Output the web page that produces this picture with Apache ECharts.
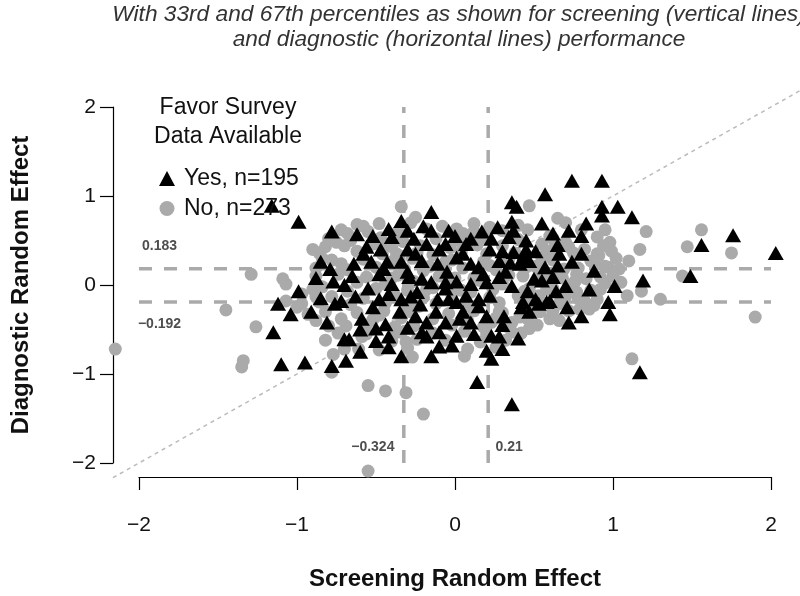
<!DOCTYPE html>
<html><head><meta charset="utf-8">
<script src="https://cdn.jsdelivr.net/npm/echarts@6/dist/echarts.min.js"></script>
<style>html,body{margin:0;padding:0;background:#fff}#c{width:800px;height:596px}</style>
</head><body><div id="c"></div>
<script>
const titleLines = ['With 33rd and 67th percentiles as shown for screening (vertical lines)', 'and diagnostic (horizontal lines) performance'];
const xAxisName = 'Screening Random Effect';
const yAxisName = 'Diagnostic Random Effect';
const axisTicks = [-2, -1, 0, 1, 2];
const screeningCuts = [-0.324, 0.21];
const diagnosticCuts = [0.183, -0.192];
const cutSpan = [-2, 2];
const diagonalSpan = [-2.165, 2.3];
const legendTitle = ['Favor Survey', 'Data Available'];
const seriesNames = ['Yes, n=195', 'No, n=273'];

const yesPoints = [
[-1.16,0.89],[-0.99,0.71],[-0.78,0.60],[-0.85,0.26],[-0.79,0.18],[-0.77,0.04],[-0.99,-0.07],[-1.12,-0.21],[-1.04,-0.33],[-1.15,-0.53],[-1.10,-0.89],[-0.95,-0.87],[-0.78,-0.91],[-0.81,-0.42],[-0.70,-0.61],[-0.91,-0.30],[-0.76,-0.21],[-0.69,-0.85],
[-0.62,0.57],[-0.56,0.43],[-0.42,0.63],[-0.34,0.72],[-0.30,0.61],[-0.20,0.66],[-0.15,0.82],[-0.15,0.61],[-0.40,0.54],[-0.26,0.52],[-0.18,0.46],[-0.10,0.40],[-0.64,0.24],[-0.53,0.26],[-0.43,0.26],[-0.34,0.26],[-0.21,0.27],[-0.11,0.24],[-0.65,0.10],[-0.48,0.12],[-0.40,0.01],[-0.29,0.09],[-0.21,0.07],[-0.15,0.03],[-0.72,-0.18],[-0.63,-0.13],[-0.55,-0.04],[-0.42,-0.10],[-0.34,-0.16],[-0.24,-0.08],[-0.11,-0.16],[-0.06,-0.04],
[-0.04,0.61],[0.10,0.52],[0.17,0.60],[0.23,0.52],[-0.06,0.46],[0.07,0.46],[0.34,0.54],[0.36,0.93],[0.39,0.88],[0.55,0.69],[0.36,0.71],[0.37,0.61],[0.30,0.38],[0.37,0.37],[0.45,0.40],[0.51,0.38],[0.01,0.31],[0.10,0.24],[0.15,0.20],[0.28,0.27],[0.43,0.31],[0.47,0.27],[-0.06,0.03],[0.01,0.04],[0.10,0.01],[0.20,0.03],[0.28,0.09],[0.36,-0.01],[-0.04,-0.16],[0.07,-0.12],[0.15,-0.16],[0.43,-0.19],[0.51,-0.16],
[-0.48,-0.16],[-0.28,-0.13],[-0.59,-0.38],[-0.50,-0.49],[-0.44,-0.44],[-0.67,-0.61],[-0.50,-0.63],[-0.42,-0.58],[-0.42,-0.70],[-0.25,-0.35],[-0.18,-0.42],[-0.21,-0.53],[-0.06,-0.42],[0.03,-0.38],[-0.18,-0.58],[-0.10,-0.53],[0.01,-0.57],[0.12,-0.55],[-0.10,-0.69],[-0.34,-0.80],[-0.15,-0.80],[0.01,-0.19],[0.15,-0.24],[0.23,-0.57],[0.28,-0.58],[0.20,-0.74],[0.30,-0.72],[0.23,-0.83],[0.31,-0.35],[0.42,-0.25],[0.47,-0.30],[0.53,-0.21],[0.60,-0.18],[0.14,-1.09],[0.36,-1.34],
[0.74,1.17],[0.93,1.17],[0.57,1.02],[0.93,0.88],[0.93,0.78],[1.03,0.88],[1.12,0.76],[0.83,0.69],[0.62,0.58],[0.72,0.61],[0.80,0.55],[1.76,0.56],[1.56,0.45],[2.03,0.36],[0.65,0.45],[0.66,0.35],[0.74,0.26],[0.88,0.16],[1.19,0.05],[1.01,-0.01],[0.62,0.09],[0.70,-0.01],[0.64,-0.07],[1.49,0.10],[0.97,-0.19],[0.98,-0.33],[0.71,-0.25],[0.72,-0.42],[0.58,-0.19],[1.17,-0.98],
[0.44,0.35],[0.41,0.24],[0.57,0.20],[0.50,0.07],[0.46,-0.07],
[-0.58,0.35],[-0.47,0.40],[-0.30,0.40],[-0.05,0.15],[0.05,0.35],[0.22,0.40],[-0.70,0.00],[-0.52,-0.25],[-0.35,-0.30],[-0.22,-0.22],[0.05,-0.30],[0.22,-0.12],[0.30,-0.45],[0.10,-0.42],[-0.30,-0.48],[-0.60,-0.50],[-0.85,-0.15],[-0.30,0.15],[0.18,0.12],[0.32,0.15],[-0.12,-0.30],[0.20,-0.35],[-0.25,0.35],[0.00,0.55],[0.27,0.65],[-0.52,0.55],[0.65,0.22],[0.80,0.35],[0.85,-0.05],[0.80,-0.35],[0.45,0.50],[-0.02,-0.68],[-0.45,0.18],[0.35,0.25],[-0.60,-0.75],[0.40,-0.60],[0.55,0.05],[-0.88,0.08]
];

const noPoints = [
[-2.15,-0.72],[-1.45,-0.28],[-1.26,-0.47],[-1.34,-0.85],[-1.35,-0.92],[-1.29,0.12],[-1.09,0.07],[-1.07,0.01],[-0.90,0.40],[-0.82,0.43],[-0.72,0.24],[-0.77,-0.78],[-0.78,-0.98],[-0.55,-1.13],[-0.44,-1.19],[-0.31,-1.21],[-0.20,-1.45],[0.06,-0.80],[-0.55,-2.09],[-0.48,0.69],[-0.34,0.88],[-0.25,0.76],[0.01,0.63],[0.22,0.65],[0.47,0.89],[0.30,0.61],[-0.45,0.44],[-0.37,0.35],[-0.06,0.26],[0.55,0.46],[0.45,0.20],[0.53,0.07],[0.43,0.10],[0.65,0.75],[0.95,0.62],[1.21,0.60],[1.56,0.62],[1.47,0.43],[1.75,0.36],[0.98,0.48],[0.99,0.38],[0.90,0.35],[1.10,0.27],[1.44,0.10],[1.05,0.03],[1.18,-0.07],[1.09,-0.12],[0.90,-0.16],[0.85,-0.27],[0.62,-0.29],[1.90,-0.36],[1.12,-0.83],[0.36,-0.53],[0.36,-0.42],[-0.61,-0.72],[-0.27,-0.81],[-0.37,-0.53],[-0.23,-0.24],[0.53,-0.12],[0.23,-0.42],[-0.59,-0.58],[-0.31,-0.64],
[-0.97,-0.21],[-0.88,-0.13],[-1.07,-0.18],[-0.93,-0.33],[-0.69,-0.46],[-0.97,-0.10],[-0.84,-0.02],[-0.86,-0.19],
[0.51,0.21],[0.58,0.12],[0.47,-0.04],[0.77,0.12],[0.83,0.07],[0.77,-0.08],[0.91,0.33],[0.97,0.20],[0.79,-0.27],[0.67,-0.16],[0.82,0.40],[0.90,0.54],[0.69,0.18],[0.60,-0.38],[0.47,-0.49],[0.41,-0.36],[1.04,0.18],[1.17,0.40],[1.30,-0.16],
[-0.62,0.68],[-0.28,0.70],[-0.08,0.66],[0.12,0.69],[0.40,0.67],[0.70,0.70],
[-0.72,0.62],[-0.55,0.60],[-0.18,0.63],[0.05,0.58],[0.46,0.62],[0.80,0.62],
[-0.80,0.52],[-0.66,0.50],[-0.47,0.53],[-0.33,0.49],[-0.12,0.52],[0.02,0.50],[0.18,0.53],[0.40,0.51],[0.62,0.52],
[-0.70,0.44],[-0.52,0.46],[-0.40,0.43],[-0.22,0.44],[-0.03,0.42],[0.14,0.45],[0.30,0.44],[0.72,0.43],
[-0.86,0.36],[-0.62,0.38],[-0.46,0.35],[-0.24,0.36],[-0.14,0.34],[0.04,0.37],[0.20,0.35],[0.38,0.36],[0.58,0.38],[0.75,0.36],
[-0.78,0.28],[-0.58,0.29],[-0.39,0.27],[-0.27,0.30],[-0.02,0.28],[0.18,0.26],[0.34,0.29],[0.62,0.28],[0.86,0.27],
[-0.88,0.19],[-0.68,0.17],[-0.50,0.20],[-0.32,0.18],[-0.16,0.21],[0.05,0.19],[0.26,0.17],[0.52,0.20],[0.78,0.19],[0.95,0.21],
[-0.88,0.10],[-0.74,0.12],[-0.56,0.09],[-0.36,0.11],[-0.10,0.10],[0.12,0.08],[0.34,0.11],[0.66,0.10],[0.92,0.09],
[-0.62,0.03],[-0.44,0.01],[-0.26,0.04],[-0.02,0.02],[0.16,0.05],[0.30,0.01],[0.58,0.03],[0.76,0.04],[0.95,0.02],
[-0.90,-0.05],[-0.68,-0.07],[-0.50,-0.04],[-0.30,-0.06],[-0.14,-0.03],[0.04,-0.06],[0.24,-0.05],[0.44,-0.07],[0.62,-0.04],[0.86,-0.06],
[-0.78,-0.13],[-0.58,-0.15],[-0.38,-0.12],[-0.20,-0.14],[-0.02,-0.11],[0.22,-0.14],[0.40,-0.12],[0.70,-0.13],[0.78,-0.15],
[-0.66,-0.22],[-0.44,-0.20],[-0.30,-0.23],[-0.12,-0.21],[0.08,-0.23],[0.28,-0.20],[0.48,-0.22],[0.66,-0.21],[0.88,-0.23],
[-0.82,-0.30],[-0.62,-0.31],[-0.45,-0.29],[-0.28,-0.30],[-0.04,-0.32],[0.12,-0.29],[0.30,-0.31],[0.54,-0.30],[0.72,-0.29],
[-0.72,-0.38],[-0.52,-0.39],[-0.34,-0.37],[-0.14,-0.38],[0.08,-0.40],[0.26,-0.37],[0.46,-0.38],
[-0.80,-0.46],[-0.56,-0.45],[-0.38,-0.47],[-0.26,-0.46],[-0.02,-0.45],[0.18,-0.47],[0.32,-0.46],[0.52,-0.45],
[-0.74,-0.54],[-0.56,-0.55],[-0.34,-0.53],[-0.14,-0.54],[0.06,-0.52],[0.20,-0.55],[0.42,-0.54],
[-0.82,-0.62],[-0.40,-0.63],[-0.24,-0.61],[-0.06,-0.62],[0.16,-0.64],[0.32,-0.62],
[-0.70,-0.72],[-0.48,-0.73],[-0.30,-0.71],[0.08,-0.72],[0.26,-0.70],
[0.55,0.30],[0.62,0.40],[0.70,0.48],[0.75,0.02],[0.82,-0.18],[0.92,-0.05],[1.00,0.10],[0.58,-0.05],[0.68,0.08],[0.88,0.26],[0.52,-0.30],[0.66,-0.40],[0.44,-0.20],[0.60,0.55],[1.02,0.30],[0.94,0.44],
[-1.00,-0.25],[-0.88,-0.40],[-0.84,0.30],[-0.75,0.48],[-0.68,0.58],[-0.58,0.66],
[-0.40,0.08],[-0.20,0.16],[0.00,0.08],[0.22,0.22],[-0.48,-0.34],[-0.18,-0.05],[0.10,-0.08],[0.28,-0.30],[-0.36,0.60],[0.12,0.60]
];

const FONT = 'Liberation Sans, Arial, sans-serif';
const fmt = v => (v < 0 ? '\u2212' + Math.abs(v) : String(v));
const dashGray = '#aaaaaa';

const cutLineSeries = [];
diagnosticCuts.forEach(v => cutLineSeries.push({
  type: 'line', data: [[cutSpan[0], v], [cutSpan[1], v]], symbol: 'none', silent: true, clip: false, z: 1,
  lineStyle: { color: dashGray, width: 3.5, type: [13, 12] }
}));
screeningCuts.forEach(v => cutLineSeries.push({
  type: 'line', data: [[v, cutSpan[0]], [v, cutSpan[1]]], symbol: 'none', silent: true, clip: false, z: 1,
  lineStyle: { color: dashGray, width: 3.5, type: [13, 12] }
}));

const cutLabelData = [
  { value: [-1.87, diagnosticCuts[0]], name: fmt(diagnosticCuts[0]), label: { offset: [0, -23] } },
  { value: [-1.87, diagnosticCuts[1]], name: fmt(diagnosticCuts[1]), label: { offset: [0, 22] } },
  { value: [screeningCuts[0], -1.82], name: fmt(screeningCuts[0]), label: { offset: [-31, 0] } },
  { value: [screeningCuts[1], -1.82], name: fmt(screeningCuts[1]), label: { offset: [21, 0] } }
];

const chart = echarts.init(document.getElementById('c'), null, { renderer: 'canvas' });
chart.setOption({
  backgroundColor: '#ffffff',
  animation: false,
  title: {
    text: titleLines.join('\n'), left: 454, top: -3, textAlign: 'center',
    textStyle: { fontFamily: FONT, fontStyle: 'italic', fontWeight: 'normal', fontSize: 22.7, lineHeight: 25, color: '#333333' }
  },
  graphic: legendTitle.map((t, i) => ({
    type: 'text', x: 228, y: 108 + i * 29,
    style: { text: t, fill: '#111111', font: '23px ' + FONT, textAlign: 'center', textVerticalAlign: 'middle' }
  })),
  legend: {
    orient: 'vertical', left: 154, top: 162, itemWidth: 16, itemHeight: 15, itemGap: 7,
    textStyle: { fontFamily: FONT, fontSize: 23, color: '#111111', padding: [0, 0, 0, 4] },
    data: [{ name: seriesNames[0], icon: 'triangle' }, { name: seriesNames[1], icon: 'circle' }]
  },
  grid: { left: 139, top: 107, width: 632, height: 356, containLabel: false },
  xAxis: {
    type: 'value', min: axisTicks[0], max: axisTicks[axisTicks.length - 1], interval: 1, offset: 14,
    splitLine: { show: false },
    axisLine: { show: true, onZero: false, lineStyle: { color: '#000', width: 1.2 } },
    axisTick: { show: true, inside: false, length: 13, lineStyle: { color: '#000', width: 1.2 } },
    axisLabel: { fontFamily: FONT, fontSize: 21, color: '#111', margin: 38, formatter: fmt },
    name: xAxisName, nameLocation: 'middle', nameGap: 90,
    nameTextStyle: { fontFamily: FONT, fontSize: 24, fontWeight: 'bold', color: '#111' }
  },
  yAxis: {
    type: 'value', min: axisTicks[0], max: axisTicks[axisTicks.length - 1], interval: 1, offset: 26,
    splitLine: { show: false },
    axisLine: { show: true, onZero: false, lineStyle: { color: '#000', width: 1.2 } },
    axisTick: { show: true, inside: false, length: 13, lineStyle: { color: '#000', width: 1.2 } },
    axisLabel: { fontFamily: FONT, fontSize: 21, color: '#111', margin: 17, formatter: fmt },
    name: yAxisName, nameLocation: 'middle', nameGap: 80, nameRotate: 90,
    nameTextStyle: { fontFamily: FONT, fontSize: 24, fontWeight: 'bold', color: '#111' }
  },
  series: [
    {
      type: 'custom', data: [[diagonalSpan[0], diagonalSpan[0], diagonalSpan[1], diagonalSpan[1]]],
      encode: { x: [0, 2], y: [1, 3] }, silent: true, clip: false, z: 1,
      renderItem: (params, api) => {
        const p1 = api.coord([api.value(0), api.value(1)]);
        const p2 = api.coord([api.value(2), api.value(3)]);
        return { type: 'line', shape: { x1: p1[0], y1: p1[1], x2: p2[0], y2: p2[1] },
          style: { stroke: '#bbbbbb', lineWidth: 1.5, lineDash: [4, 4], fill: null } };
      }
    },
    ...cutLineSeries,
    {
      name: seriesNames[1], type: 'scatter', data: noPoints, symbol: 'circle', symbolSize: 13, clip: false, z: 2,
      itemStyle: { color: '#aaaaaa', opacity: 1 }
    },
    {
      name: seriesNames[0], type: 'scatter', data: yesPoints, symbol: 'triangle', symbolSize: [16, 14], clip: false, z: 3,
      itemStyle: { color: '#000000', opacity: 1 }
    },
    {
      type: 'scatter', data: cutLabelData, symbolSize: 0, silent: true, clip: false, z: 4,
      label: { show: true, position: 'inside', formatter: p => p.name, fontFamily: FONT, fontWeight: 'bold', fontSize: 14, color: '#222' }
    }
  ]
});
</script></body></html>
